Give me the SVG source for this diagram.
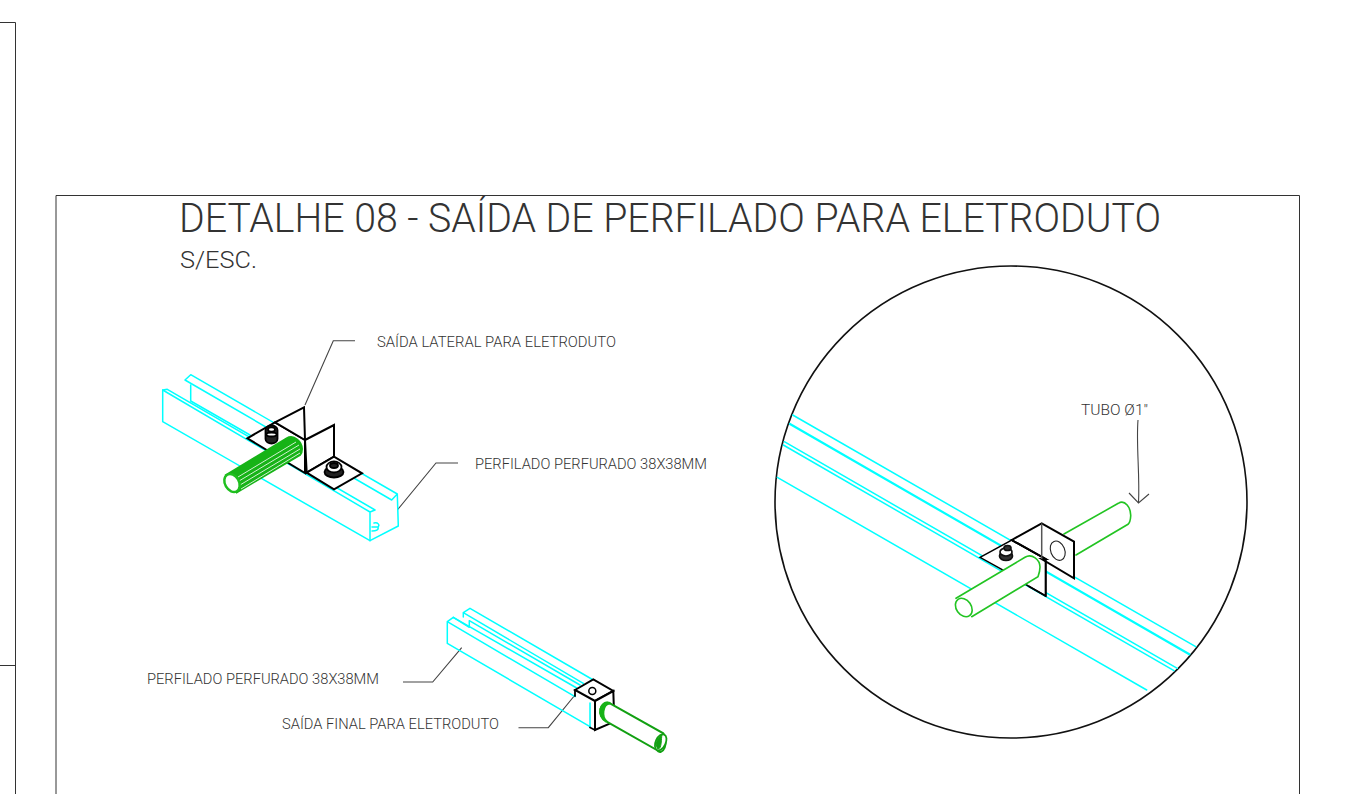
<svg xmlns="http://www.w3.org/2000/svg" width="1349" height="794" viewBox="0 0 1349 794">
<style>
text{font-family:"Roboto","Liberation Sans",sans-serif;font-weight:300;fill:#333}
.lb{font-size:14.500px}
.c{fill:none;stroke:#0ff;stroke-width:1.500;stroke-linejoin:round;stroke-linecap:round}
.k{fill:#fff;stroke:#000;stroke-width:2;stroke-linejoin:miter;stroke-linecap:round}
.kn{fill:none;stroke:#000;stroke-width:1.800;stroke-linecap:round}
.g{fill:#fff;stroke:#22c422;stroke-width:1.600;stroke-linecap:round}
.l{fill:none;stroke:#444;stroke-width:1.100}
.h{fill:none;stroke:#fff;stroke-width:.8}
</style>
<rect width="1349" height="794" fill="#fff"/>
<g id="sheet" fill="none" stroke="#333" stroke-width="1">
<path d="M0 22.500H15.500V794M0 665.500H15.500"/>
<path d="M56 794V195.500H1299.500V794"/>
</g>
<g id="title">
<text x="179" y="232" font-size="41" textLength="982" lengthAdjust="spacingAndGlyphs">DETALHE 08 - SAÍDA DE PERFILADO PARA ELETRODUTO</text>
<text x="180" y="268" font-size="24" textLength="77" lengthAdjust="spacingAndGlyphs">S/ESC.</text>
</g>
<g id="connectors">
<path class="l" d="M305 405 333.300 340.700H355"/>
<path class="l" d="M397.300 510 436 463H458"/>
<path class="l" d="M461.700 647.700 432.700 682H403"/>
<path class="l" d="M575 695 548.300 727.700H518.500"/>
<path class="l" d="M1138 420C1136 445 1140 475 1138.500 503M1129 493 1138.500 503 1149 494"/>
</g>
<g id="profile-lateral">
<path class="c" d="M162.700 390V421.700L370 540.700L398.300 526L397.300 494L190.700 374.700L185 380L391.700 500L397.300 494"/>
<path class="c" d="M162.700 390L167.300 389.300L375 510L370 512V540.700M162.700 390L370 512"/>
<path class="c" d="M190.700 385V401L250 435M372 527H378C380 525 378 522 374 523M372 531C376 531 379 530 378 527"/>
</g>
<g id="bracket-lateral">
<path class="k" d="M247.300 438.300L275 422.300L305 440V473L247.300 438.300Z"/>
<path class="k" d="M275 422.300L304 407.300L305 440Z"/>
<path class="k" d="M305 440L334 425V456.700L306.700 472.700Z"/>
<path class="k" d="M306.700 472.700L334 456.700L362 473.300L334 489.300Z"/>
<g fill="#fff" stroke="#000" stroke-width="1.800">
<path d="M265.500 430C265.500 424 277.500 424 277.500 430V439C277.500 445 265.500 445 265.500 439Z" fill="#222"/>
<ellipse cx="271.500" cy="429.500" rx="3.500" ry="2.200"/>
<ellipse cx="271.500" cy="434.500" rx="5" ry="2"/>
<ellipse cx="334" cy="472" rx="9.500" ry="5.500" fill="#222"/>
<ellipse cx="334" cy="467" rx="7.500" ry="5.500"/>
<ellipse cx="334" cy="465.500" rx="4" ry="2.500" fill="#222"/>
</g>
</g>
<g id="tube-lateral">
<path d="M226 475L286.700 438.300C294 434 302 442 302 449C302 452 301 454 300 455L236.700 492.300Z" fill="#17b317" stroke="#17b317" stroke-width="2"/>
<path class="h" d="M238 477 296 442M239 481 299 445M240 485 300 449M241 489 300 453"/>
<ellipse cx="232" cy="483" rx="7" ry="9.500" transform="rotate(-30 232 483)" fill="#fff" stroke="#1fbf1f" stroke-width="2.500"/>
</g>
<g id="profile-final">
<path class="c" d="M447.300 621.700V643.300L590 726.700M447.300 621.700L453.300 617.300L576.700 688M447.300 621.700L575 696.700"/>
<path class="c" d="M463.300 612.700L470 608.300L593.300 680M463.300 612.700L583.300 683.300M463.300 612.700V617M469.300 620.700V627.300L453.300 617.300M469.300 620.700L580 685"/>
<path class="c" d="M590 726.700V703"/>
</g>
<g id="bracket-final">
<path class="k" d="M575 690L593.300 679.300L613.300 691L595 701Z"/>
<path class="k" d="M595 701L613.300 691L614.300 721.700L595 730Z"/>
<path class="kn" d="M575 690V696M590 727.500 595 730"/>
<circle cx="592.300" cy="691" r="3.500" fill="#fff" stroke="#000" stroke-width="1.500"/>
</g>
<g id="tube-final">
<path d="M610 703.300L663.300 733.300A5 9 0 0 1 656.700 750L606.700 721.700C596 716 600 700 610 703.300Z" fill="#fff" stroke="#12a012" stroke-width="2"/>
<path d="M606.700 721.700C596 716 600 700 610 703.300C602 704 601 717 606.700 721.700Z" fill="#17b317" stroke="#17b317" stroke-width="2.500"/>
<ellipse cx="660.700" cy="742.300" rx="5" ry="8.500" transform="rotate(25 660.700 742.300)" fill="#fff" stroke="#12a012" stroke-width="1.800"/>
<path d="M662 735C656 738 655 746 658 749C662 749 661 738 662 735Z" fill="#12a012" stroke="#12a012"/>
</g>
<g id="detail-circle">
<circle cx="1011" cy="502" r="236" fill="none" stroke="#111" stroke-width="1.600"/>
<path class="c" d="M792.700 415 1195.700 646.700M784.300 441.700 1177.300 668.300M783.300 445 1174 670.700M777.300 477.300 1146.700 690"/>
<path class="c" style="stroke-width:2.200" d="M790 424 1189.300 654.300"/>
</g>
<g id="tube-detail-back">
<path class="g" d="M1064 534L1118.300 503.300C1125 499 1131 508 1130.700 516C1130.500 520 1129.500 523 1128 524.300L1076 555"/>
</g>
<g id="bracket-detail">
<path class="k" d="M980 557.300L1011.700 540L1045.700 559V596L1028.300 586L1001.700 569.300Z" style="stroke-width:1.500"/>
<path class="k" d="M1011.700 540L1041.700 523.300L1074 541.700V578.300L1041.700 559L1045.700 559Z"/>
<path class="k" d="M1011.700 540L1045.700 559V596" style="fill:none"/>
<path d="M1041.700 523.300V559" fill="none" stroke="#555" stroke-width="1.500"/>
<ellipse cx="1057.700" cy="550.700" rx="7" ry="10" transform="rotate(-22 1057.700 550.700)" fill="#fff" stroke="#222" stroke-width="1.100"/>
<g fill="#fff" stroke="#111" stroke-width="1.700">
<ellipse cx="1006" cy="556" rx="6.500" ry="4.500" fill="#333"/>
<ellipse cx="1006" cy="552" rx="6" ry="4"/>
<ellipse cx="1007.500" cy="548" rx="3.500" ry="2.500" fill="#333"/>
</g>
</g>
<g id="tube-detail-front">
<path class="g" d="M956 598.300L1025 557.300C1032 553 1040 560 1040 567C1040 571 1039 574 1038 576.700L971.700 616.700"/>
<path d="M1028.300 586 1045.700 596" fill="none" stroke="#000" stroke-width="1.500"/>
<ellipse cx="963.800" cy="607.500" rx="7.500" ry="10" transform="rotate(-35 963.800 607.500)" fill="#fff" stroke="#22c422" stroke-width="1.600"/>
</g>
<g id="labels">
<text class="lb" x="377" y="346.500" textLength="239" lengthAdjust="spacingAndGlyphs">SAÍDA LATERAL PARA ELETRODUTO</text>
<text class="lb" x="475" y="468.500" textLength="232" lengthAdjust="spacingAndGlyphs">PERFILADO PERFURADO 38X38MM</text>
<text class="lb" x="147" y="683.500" textLength="232" lengthAdjust="spacingAndGlyphs">PERFILADO PERFURADO 38X38MM</text>
<text class="lb" x="282" y="728.500" textLength="217" lengthAdjust="spacingAndGlyphs">SAÍDA FINAL PARA ELETRODUTO</text>
<text class="lb" x="1081" y="414.500" textLength="67" lengthAdjust="spacingAndGlyphs">TUBO Ø1"</text>
</g>
</svg>
